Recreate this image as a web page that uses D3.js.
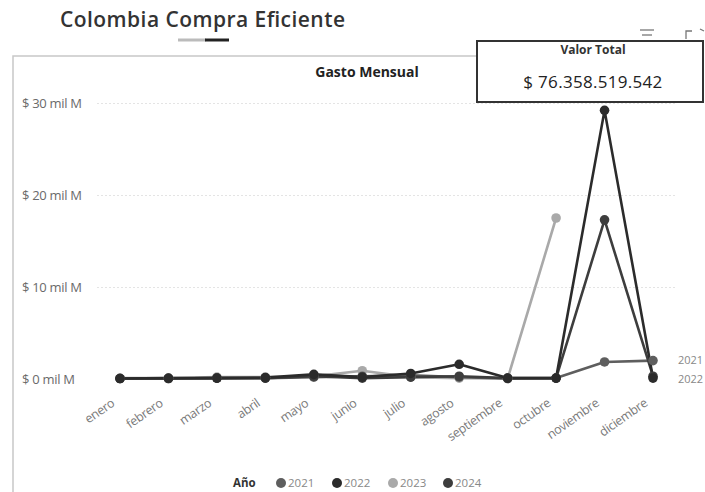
<!DOCTYPE html>
<html><head><meta charset="utf-8">
<script src="https://cdn.jsdelivr.net/npm/d3@7/dist/d3.min.js"></script>
<style>body{margin:0;background:#fff;overflow:hidden}svg{display:block}text{font-family:"Open Sans",sans-serif}</style>
</head><body><svg id="c" width="705" height="492"></svg>
<script>
const months = ["enero","febrero","marzo","abril","mayo","junio","julio","agosto","septiembre","octubre","noviembre","diciembre"];
const years = ["2021","2022","2023","2024"];
const v2021 = [0.05,0.05,0.1,0.1,0.2,0.3,0.4,0.2,0.05,0.1,1.85,2.0];
const v2022 = [0.05,0.1,0.1,0.15,0.5,0.2,0.6,1.6,0.1,0.1,29.2,0.1];
const v2023 = [0.1,0.1,0.2,0.2,0.3,0.9,0.2,0.1,0.05,17.5];
const v2024 = [0.05,0.05,0.1,0.1,0.3,0.1,0.2,0.3,0.1,0.1,17.3,0.3];
const yTicks = [0,10,20,30];
const yTickLabels = ["$ 0 mil M","$ 10 mil M","$ 20 mil M","$ 30 mil M"];
const colors = ["#5e5e5e","#2b2b2b","#a9a9a9","#3d3d3d"];
const endLabels = ["2021","2022"];
const totalText = "$ 76.358.519.542";

const series = [v2021,v2022,v2023,v2024].map((vals,i)=>({year:years[i],color:colors[i],vals}));
const svg = d3.select("#c");

// header
svg.append("text").attr("x",60).attr("y",27).attr("font-size",21).attr("font-weight",600).attr("fill","#333")
  .attr("textLength",285).text("Colombia Compra Eficiente");
svg.append("line").attr("x1",178).attr("x2",206).attr("y1",40).attr("y2",40).attr("stroke","#bbb").attr("stroke-width",3);
svg.append("line").attr("x1",205).attr("x2",229).attr("y1",40).attr("y2",40).attr("stroke","#222").attr("stroke-width",3);

// panel border
svg.append("path").attr("d","M13,492V56H478").attr("fill","none").attr("stroke","#c8c8c8").attr("stroke-width",1.5);

// icons top right
const ic = svg.append("g").attr("stroke","#777").attr("stroke-width",1.3).attr("fill","none");
ic.append("line").attr("x1",640).attr("x2",654).attr("y1",30).attr("y2",30);
ic.append("line").attr("x1",642).attr("x2",652).attr("y1",35).attr("y2",35);
ic.append("path").attr("d","M686,39V31H692M700,29L704,31");

svg.append("text").attr("x",367).attr("y",77).attr("text-anchor","middle").attr("font-size",14)
  .attr("font-weight","bold").attr("fill","#222").text("Gasto Mensual");

const x = d3.scalePoint().domain(months).range([120,653]);
const y = d3.scaleLinear().domain([0,30]).range([379,103]);

// grid
const yAxis = d3.axisLeft(y).tickValues(yTicks).tickSize(-578).tickFormat((d,i)=>yTickLabels[i]);
const gy = svg.append("g").attr("transform","translate(97,0)").call(yAxis);
gy.select(".domain").remove();
gy.selectAll(".tick line").attr("stroke","#e4e4e4").attr("stroke-dasharray","2,2").attr("stroke-width",1)
  .filter(d=>d===0).attr("stroke","none");
gy.selectAll(".tick text").attr("x",-75).attr("text-anchor","start").attr("font-size",13).attr("fill","#6a6a6a")
  .attr("letter-spacing","-0.3").attr("font-family","'Open Sans',sans-serif");

// x axis
const xAxis = d3.axisBottom(x).tickSize(0);
const gx = svg.append("g").attr("transform","translate(0,379)").call(xAxis);
gx.select(".domain").remove();
gx.selectAll(".tick text").attr("font-size",12.5).attr("fill","#7a7a7a").attr("font-family","'Open Sans',sans-serif")
  .attr("letter-spacing","-0.3").attr("text-anchor","end").attr("dy",0).attr("y",0)
  .attr("transform","translate(-5,26) rotate(-35)");

// lines
const line = d3.line().x((d,i)=>x(months[i])).y(d=>y(d));
const order = [2,0,3,1];
order.forEach(k=>{
  const s = series[k];
  svg.append("path").datum(s.vals).attr("d",line).attr("fill","none").attr("stroke",s.color)
    .attr("stroke-width",2.6).attr("stroke-linejoin","round");
});
order.forEach(k=>{
  const s = series[k];
  svg.append("g").selectAll("circle").data(s.vals).join("circle")
    .attr("cx",(d,i)=>x(months[i])).attr("cy",d=>y(d)).attr("r",4.8).attr("fill",s.color);
});

// end labels
endLabels.forEach((lab,i)=>{
  const s = series[years.indexOf(lab)];
  const v = s.vals[s.vals.length-1];
  svg.append("text").attr("x",678).attr("y",y(v)+(i===0?0:1)).attr("dy","0.35em").attr("font-size",11)
    .attr("fill","#888").text(lab);
});

// tooltip box
svg.append("rect").attr("x",477).attr("y",41).attr("width",226).attr("height",61)
  .attr("fill","#fff").attr("stroke","#333").attr("stroke-width",2);
svg.append("text").attr("x",593).attr("y",54).attr("text-anchor","middle").attr("font-size",12)
  .attr("font-weight","bold").attr("fill","#333").attr("font-family","'Liberation Sans',Arial,sans-serif").text("Valor Total");
svg.append("text").attr("x",593).attr("y",88).attr("text-anchor","middle").attr("font-size",17)
  .attr("fill","#222").attr("font-family","'Liberation Sans',Arial,sans-serif").attr("letter-spacing","0.3").text(totalText);

// legend
const lg = svg.append("g").attr("transform","translate(0,483)");
lg.append("text").attr("x",233).attr("y",0).attr("dy","0.35em").attr("font-size",11.5).attr("font-weight","bold")
  .attr("fill","#333").text("Año");
const lx = [281,337,393,448];
series.forEach((s,i)=>{
  lg.append("circle").attr("cx",lx[i]).attr("cy",0).attr("r",5).attr("fill",s.color);
  lg.append("text").attr("x",lx[i]+7).attr("y",0).attr("dy","0.35em").attr("font-size",11.5).attr("fill","#888").text(s.year);
});
</script></body></html>
